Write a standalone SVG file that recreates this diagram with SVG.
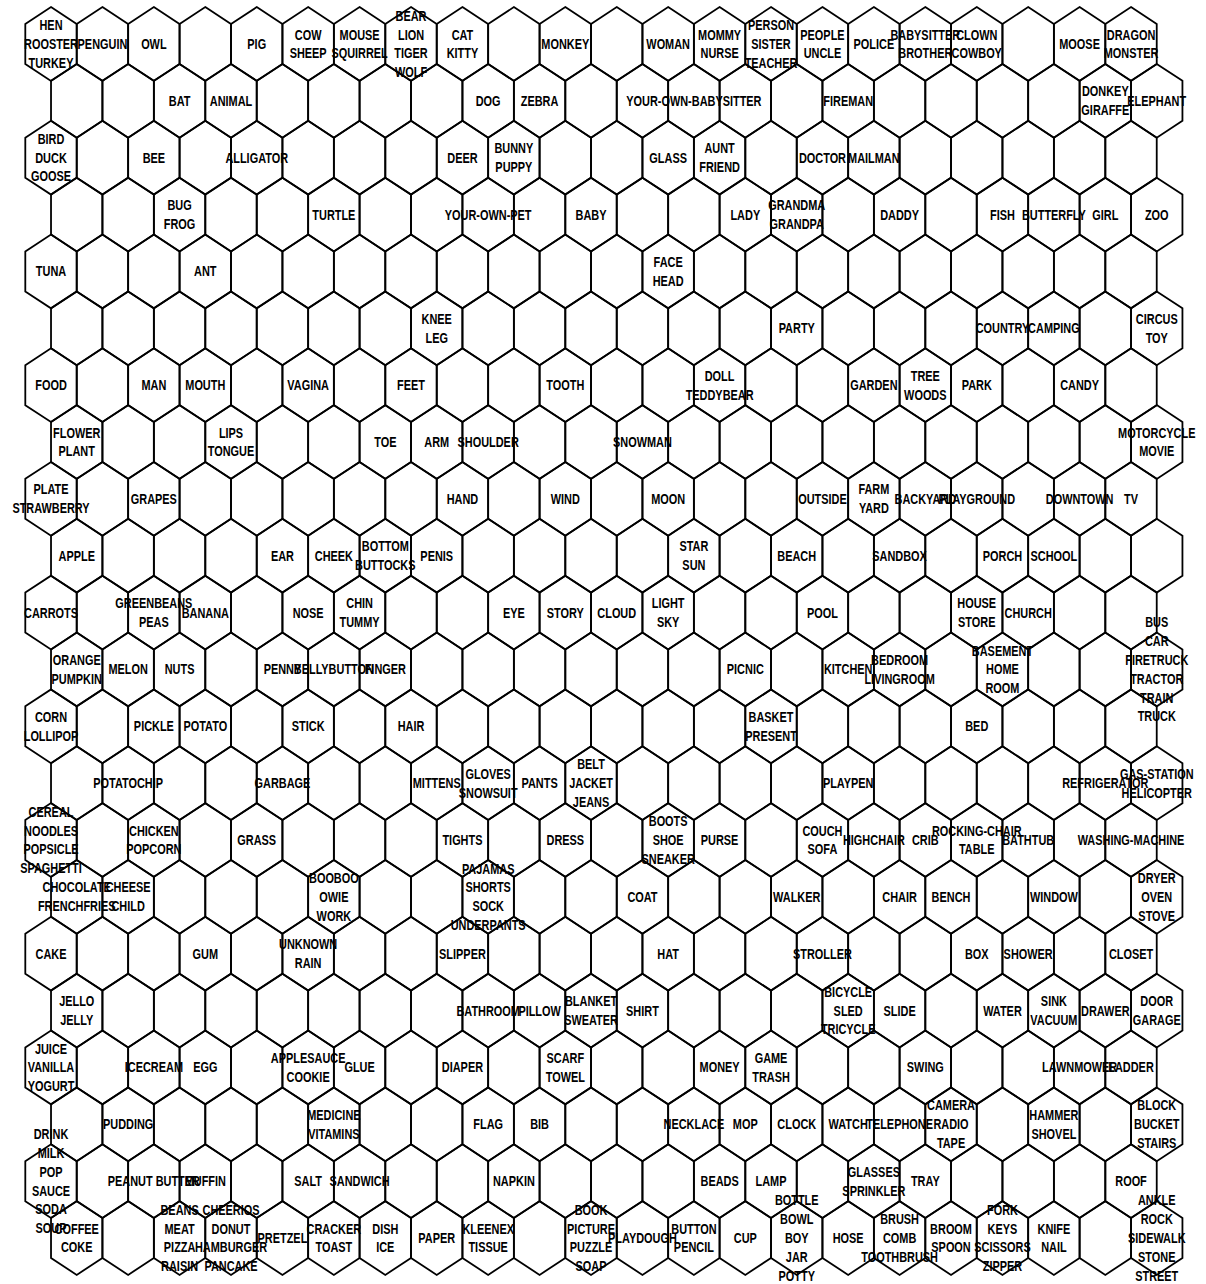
<svg xmlns="http://www.w3.org/2000/svg" xmlns:xlink="http://www.w3.org/1999/xlink" width="1206" height="1284" viewBox="0 0 1206 1284">
<style>
.hx{fill:none;stroke:#000;stroke-width:1.8;stroke-linejoin:miter}
.t{font-family:"Liberation Sans",Arial,sans-serif;font-weight:700;font-size:14px;text-anchor:middle;fill:#000}
</style>
<defs>
<polygon id="hx" class="hx" points="0,-36.9 25.7,-20 25.7,20 0,36.9 -25.7,20 -25.7,-20"/>
<g id="row">
<use href="#hx" x="51"/><use href="#hx" x="102.43"/><use href="#hx" x="153.86"/><use href="#hx" x="205.29"/><use href="#hx" x="256.72"/><use href="#hx" x="308.15"/><use href="#hx" x="359.58"/><use href="#hx" x="411.01"/><use href="#hx" x="462.44"/><use href="#hx" x="513.87"/><use href="#hx" x="565.3"/><use href="#hx" x="616.73"/><use href="#hx" x="668.16"/><use href="#hx" x="719.59"/><use href="#hx" x="771.02"/><use href="#hx" x="822.45"/><use href="#hx" x="873.88"/><use href="#hx" x="925.31"/><use href="#hx" x="976.74"/><use href="#hx" x="1028.17"/><use href="#hx" x="1079.6"/><use href="#hx" x="1131.03"/>
</g>
</defs>
<rect width="1206" height="1284" fill="#fff"/>
<g id="grid">
<use href="#row" transform="translate(0,44)"/>
<use href="#row" transform="translate(25.715,100.86)"/>
<use href="#row" transform="translate(0,157.71)"/>
<use href="#row" transform="translate(25.715,214.57)"/>
<use href="#row" transform="translate(0,271.43)"/>
<use href="#row" transform="translate(25.715,328.29)"/>
<use href="#row" transform="translate(0,385.14)"/>
<use href="#row" transform="translate(25.715,442)"/>
<use href="#row" transform="translate(0,498.86)"/>
<use href="#row" transform="translate(25.715,555.71)"/>
<use href="#row" transform="translate(0,612.57)"/>
<use href="#row" transform="translate(25.715,669.43)"/>
<use href="#row" transform="translate(0,726.28)"/>
<use href="#row" transform="translate(25.715,783.14)"/>
<use href="#row" transform="translate(0,840)"/>
<use href="#row" transform="translate(25.715,896.86)"/>
<use href="#row" transform="translate(0,953.71)"/>
<use href="#row" transform="translate(25.715,1010.57)"/>
<use href="#row" transform="translate(0,1067.43)"/>
<use href="#row" transform="translate(25.715,1124.28)"/>
<use href="#row" transform="translate(0,1181.14)"/>
<use href="#row" transform="translate(25.715,1238)"/>
</g>
<g id="labels">
<!-- row 0 -->
<g id="c0_0" transform="translate(51,44)"><text class="t" transform="scale(.78,1)"><tspan x="0" y="-13.8">HEN</tspan><tspan x="0" y="5">ROOSTER</tspan><tspan x="0" y="23.8">TURKEY</tspan></text></g>
<g id="c0_1" transform="translate(102.43,44)"><text class="t" transform="scale(.78,1)" y="5">PENGUIN</text></g>
<g id="c0_2" transform="translate(153.86,44)"><text class="t" transform="scale(.78,1)" y="5">OWL</text></g>
<g id="c0_4" transform="translate(256.72,44)"><text class="t" transform="scale(.78,1)" y="5">PIG</text></g>
<g id="c0_5" transform="translate(308.15,44)"><text class="t" transform="scale(.78,1)"><tspan x="0" y="-4.4">COW</tspan><tspan x="0" y="14.4">SHEEP</tspan></text></g>
<g id="c0_6" transform="translate(359.58,44)"><text class="t" transform="scale(.78,1)"><tspan x="0" y="-4.4">MOUSE</tspan><tspan x="0" y="14.4">SQUIRREL</tspan></text></g>
<g id="c0_7" transform="translate(411.01,44)"><text class="t" transform="scale(.78,1)"><tspan x="0" y="-23.2">BEAR</tspan><tspan x="0" y="-4.4">LION</tspan><tspan x="0" y="14.4">TIGER</tspan><tspan x="0" y="33.2">WOLF</tspan></text></g>
<g id="c0_8" transform="translate(462.44,44)"><text class="t" transform="scale(.78,1)"><tspan x="0" y="-4.4">CAT</tspan><tspan x="0" y="14.4">KITTY</tspan></text></g>
<g id="c0_10" transform="translate(565.3,44)"><text class="t" transform="scale(.78,1)" y="5">MONKEY</text></g>
<g id="c0_12" transform="translate(668.16,44)"><text class="t" transform="scale(.78,1)" y="5">WOMAN</text></g>
<g id="c0_13" transform="translate(719.59,44)"><text class="t" transform="scale(.78,1)"><tspan x="0" y="-4.4">MOMMY</tspan><tspan x="0" y="14.4">NURSE</tspan></text></g>
<g id="c0_14" transform="translate(771.02,44)"><text class="t" transform="scale(.78,1)"><tspan x="0" y="-13.8">PERSON</tspan><tspan x="0" y="5">SISTER</tspan><tspan x="0" y="23.8">TEACHER</tspan></text></g>
<g id="c0_15" transform="translate(822.45,44)"><text class="t" transform="scale(.78,1)"><tspan x="0" y="-4.4">PEOPLE</tspan><tspan x="0" y="14.4">UNCLE</tspan></text></g>
<g id="c0_16" transform="translate(873.88,44)"><text class="t" transform="scale(.78,1)" y="5">POLICE</text></g>
<g id="c0_17" transform="translate(925.31,44)"><text class="t" transform="scale(.78,1)"><tspan x="0" y="-4.4">BABYSITTER</tspan><tspan x="0" y="14.4">BROTHER</tspan></text></g>
<g id="c0_18" transform="translate(976.74,44)"><text class="t" transform="scale(.78,1)"><tspan x="0" y="-4.4">CLOWN</tspan><tspan x="0" y="14.4">COWBOY</tspan></text></g>
<g id="c0_20" transform="translate(1079.6,44)"><text class="t" transform="scale(.78,1)" y="5">MOOSE</text></g>
<g id="c0_21" transform="translate(1131.03,44)"><text class="t" transform="scale(.78,1)"><tspan x="0" y="-4.4">DRAGON</tspan><tspan x="0" y="14.4">MONSTER</tspan></text></g>
<!-- row 1 -->
<g id="c1_2" transform="translate(179.58,100.86)"><text class="t" transform="scale(.78,1)" y="5">BAT</text></g>
<g id="c1_3" transform="translate(231.01,100.86)"><text class="t" transform="scale(.78,1)" y="5">ANIMAL</text></g>
<g id="c1_8" transform="translate(488.16,100.86)"><text class="t" transform="scale(.78,1)" y="5">DOG</text></g>
<g id="c1_9" transform="translate(539.59,100.86)"><text class="t" transform="scale(.78,1)" y="5">ZEBRA</text></g>
<g id="c1_12" transform="translate(693.88,100.86)"><text class="t" transform="scale(.78,1)" y="5">YOUR-OWN-BABYSITTER</text></g>
<g id="c1_15" transform="translate(848.17,100.86)"><text class="t" transform="scale(.78,1)" y="5">FIREMAN</text></g>
<g id="c1_20" transform="translate(1105.32,100.86)"><text class="t" transform="scale(.78,1)"><tspan x="0" y="-4.4">DONKEY</tspan><tspan x="0" y="14.4">GIRAFFE</tspan></text></g>
<g id="c1_21" transform="translate(1156.75,100.86)"><text class="t" transform="scale(.78,1)" y="5">ELEPHANT</text></g>
<!-- row 2 -->
<g id="c2_0" transform="translate(51,157.71)"><text class="t" transform="scale(.78,1)"><tspan x="0" y="-13.8">BIRD</tspan><tspan x="0" y="5">DUCK</tspan><tspan x="0" y="23.8">GOOSE</tspan></text></g>
<g id="c2_2" transform="translate(153.86,157.71)"><text class="t" transform="scale(.78,1)" y="5">BEE</text></g>
<g id="c2_4" transform="translate(256.72,157.71)"><text class="t" transform="scale(.78,1)" y="5">ALLIGATOR</text></g>
<g id="c2_8" transform="translate(462.44,157.71)"><text class="t" transform="scale(.78,1)" y="5">DEER</text></g>
<g id="c2_9" transform="translate(513.87,157.71)"><text class="t" transform="scale(.78,1)"><tspan x="0" y="-4.4">BUNNY</tspan><tspan x="0" y="14.4">PUPPY</tspan></text></g>
<g id="c2_12" transform="translate(668.16,157.71)"><text class="t" transform="scale(.78,1)" y="5">GLASS</text></g>
<g id="c2_13" transform="translate(719.59,157.71)"><text class="t" transform="scale(.78,1)"><tspan x="0" y="-4.4">AUNT</tspan><tspan x="0" y="14.4">FRIEND</tspan></text></g>
<g id="c2_15" transform="translate(822.45,157.71)"><text class="t" transform="scale(.78,1)" y="5">DOCTOR</text></g>
<g id="c2_16" transform="translate(873.88,157.71)"><text class="t" transform="scale(.78,1)" y="5">MAILMAN</text></g>
<!-- row 3 -->
<g id="c3_2" transform="translate(179.58,214.57)"><text class="t" transform="scale(.78,1)"><tspan x="0" y="-4.4">BUG</tspan><tspan x="0" y="14.4">FROG</tspan></text></g>
<g id="c3_5" transform="translate(333.87,214.57)"><text class="t" transform="scale(.78,1)" y="5">TURTLE</text></g>
<g id="c3_8" transform="translate(488.16,214.57)"><text class="t" transform="scale(.78,1)" y="5">YOUR-OWN-PET</text></g>
<g id="c3_10" transform="translate(591.02,214.57)"><text class="t" transform="scale(.78,1)" y="5">BABY</text></g>
<g id="c3_13" transform="translate(745.31,214.57)"><text class="t" transform="scale(.78,1)" y="5">LADY</text></g>
<g id="c3_14" transform="translate(796.74,214.57)"><text class="t" transform="scale(.78,1)"><tspan x="0" y="-4.4">GRANDMA</tspan><tspan x="0" y="14.4">GRANDPA</tspan></text></g>
<g id="c3_16" transform="translate(899.6,214.57)"><text class="t" transform="scale(.78,1)" y="5">DADDY</text></g>
<g id="c3_18" transform="translate(1002.46,214.57)"><text class="t" transform="scale(.78,1)" y="5">FISH</text></g>
<g id="c3_19" transform="translate(1053.89,214.57)"><text class="t" transform="scale(.78,1)" y="5">BUTTERFLY</text></g>
<g id="c3_20" transform="translate(1105.32,214.57)"><text class="t" transform="scale(.78,1)" y="5">GIRL</text></g>
<g id="c3_21" transform="translate(1156.75,214.57)"><text class="t" transform="scale(.78,1)" y="5">ZOO</text></g>
<!-- row 4 -->
<g id="c4_0" transform="translate(51,271.43)"><text class="t" transform="scale(.78,1)" y="5">TUNA</text></g>
<g id="c4_3" transform="translate(205.29,271.43)"><text class="t" transform="scale(.78,1)" y="5">ANT</text></g>
<g id="c4_12" transform="translate(668.16,271.43)"><text class="t" transform="scale(.78,1)"><tspan x="0" y="-4.4">FACE</tspan><tspan x="0" y="14.4">HEAD</tspan></text></g>
<!-- row 5 -->
<g id="c5_7" transform="translate(436.73,328.29)"><text class="t" transform="scale(.78,1)"><tspan x="0" y="-4.4">KNEE</tspan><tspan x="0" y="14.4">LEG</tspan></text></g>
<g id="c5_14" transform="translate(796.74,328.29)"><text class="t" transform="scale(.78,1)" y="5">PARTY</text></g>
<g id="c5_18" transform="translate(1002.46,328.29)"><text class="t" transform="scale(.78,1)" y="5">COUNTRY</text></g>
<g id="c5_19" transform="translate(1053.89,328.29)"><text class="t" transform="scale(.78,1)" y="5">CAMPING</text></g>
<g id="c5_21" transform="translate(1156.75,328.29)"><text class="t" transform="scale(.78,1)"><tspan x="0" y="-4.4">CIRCUS</tspan><tspan x="0" y="14.4">TOY</tspan></text></g>
<!-- row 6 -->
<g id="c6_0" transform="translate(51,385.14)"><text class="t" transform="scale(.78,1)" y="5">FOOD</text></g>
<g id="c6_2" transform="translate(153.86,385.14)"><text class="t" transform="scale(.78,1)" y="5">MAN</text></g>
<g id="c6_3" transform="translate(205.29,385.14)"><text class="t" transform="scale(.78,1)" y="5">MOUTH</text></g>
<g id="c6_5" transform="translate(308.15,385.14)"><text class="t" transform="scale(.78,1)" y="5">VAGINA</text></g>
<g id="c6_7" transform="translate(411.01,385.14)"><text class="t" transform="scale(.78,1)" y="5">FEET</text></g>
<g id="c6_10" transform="translate(565.3,385.14)"><text class="t" transform="scale(.78,1)" y="5">TOOTH</text></g>
<g id="c6_13" transform="translate(719.59,385.14)"><text class="t" transform="scale(.78,1)"><tspan x="0" y="-4.4">DOLL</tspan><tspan x="0" y="14.4">TEDDYBEAR</tspan></text></g>
<g id="c6_16" transform="translate(873.88,385.14)"><text class="t" transform="scale(.78,1)" y="5">GARDEN</text></g>
<g id="c6_17" transform="translate(925.31,385.14)"><text class="t" transform="scale(.78,1)"><tspan x="0" y="-4.4">TREE</tspan><tspan x="0" y="14.4">WOODS</tspan></text></g>
<g id="c6_18" transform="translate(976.74,385.14)"><text class="t" transform="scale(.78,1)" y="5">PARK</text></g>
<g id="c6_20" transform="translate(1079.6,385.14)"><text class="t" transform="scale(.78,1)" y="5">CANDY</text></g>
<!-- row 7 -->
<g id="c7_0" transform="translate(76.72,442)"><text class="t" transform="scale(.78,1)"><tspan x="0" y="-4.4">FLOWER</tspan><tspan x="0" y="14.4">PLANT</tspan></text></g>
<g id="c7_3" transform="translate(231.01,442)"><text class="t" transform="scale(.78,1)"><tspan x="0" y="-4.4">LIPS</tspan><tspan x="0" y="14.4">TONGUE</tspan></text></g>
<g id="c7_6" transform="translate(385.3,442)"><text class="t" transform="scale(.78,1)" y="5">TOE</text></g>
<g id="c7_7" transform="translate(436.73,442)"><text class="t" transform="scale(.78,1)" y="5">ARM</text></g>
<g id="c7_8" transform="translate(488.16,442)"><text class="t" transform="scale(.78,1)" y="5">SHOULDER</text></g>
<g id="c7_11" transform="translate(642.45,442)"><text class="t" transform="scale(.78,1)" y="5">SNOWMAN</text></g>
<g id="c7_21" transform="translate(1156.75,442)"><text class="t" transform="scale(.78,1)"><tspan x="0" y="-4.4">MOTORCYCLE</tspan><tspan x="0" y="14.4">MOVIE</tspan></text></g>
<!-- row 8 -->
<g id="c8_0" transform="translate(51,498.86)"><text class="t" transform="scale(.78,1)"><tspan x="0" y="-4.4">PLATE</tspan><tspan x="0" y="14.4">STRAWBERRY</tspan></text></g>
<g id="c8_2" transform="translate(153.86,498.86)"><text class="t" transform="scale(.78,1)" y="5">GRAPES</text></g>
<g id="c8_8" transform="translate(462.44,498.86)"><text class="t" transform="scale(.78,1)" y="5">HAND</text></g>
<g id="c8_10" transform="translate(565.3,498.86)"><text class="t" transform="scale(.78,1)" y="5">WIND</text></g>
<g id="c8_12" transform="translate(668.16,498.86)"><text class="t" transform="scale(.78,1)" y="5">MOON</text></g>
<g id="c8_15" transform="translate(822.45,498.86)"><text class="t" transform="scale(.78,1)" y="5">OUTSIDE</text></g>
<g id="c8_16" transform="translate(873.88,498.86)"><text class="t" transform="scale(.78,1)"><tspan x="0" y="-4.4">FARM</tspan><tspan x="0" y="14.4">YARD</tspan></text></g>
<g id="c8_17" transform="translate(925.31,498.86)"><text class="t" transform="scale(.78,1)" y="5">BACKYARD</text></g>
<g id="c8_18" transform="translate(976.74,498.86)"><text class="t" transform="scale(.78,1)" y="5">PLAYGROUND</text></g>
<g id="c8_20" transform="translate(1079.6,498.86)"><text class="t" transform="scale(.78,1)" y="5">DOWNTOWN</text></g>
<g id="c8_21" transform="translate(1131.03,498.86)"><text class="t" transform="scale(.78,1)" y="5">TV</text></g>
<!-- row 9 -->
<g id="c9_0" transform="translate(76.72,555.71)"><text class="t" transform="scale(.78,1)" y="5">APPLE</text></g>
<g id="c9_4" transform="translate(282.44,555.71)"><text class="t" transform="scale(.78,1)" y="5">EAR</text></g>
<g id="c9_5" transform="translate(333.87,555.71)"><text class="t" transform="scale(.78,1)" y="5">CHEEK</text></g>
<g id="c9_6" transform="translate(385.3,555.71)"><text class="t" transform="scale(.78,1)"><tspan x="0" y="-4.4">BOTTOM</tspan><tspan x="0" y="14.4">BUTTOCKS</tspan></text></g>
<g id="c9_7" transform="translate(436.73,555.71)"><text class="t" transform="scale(.78,1)" y="5">PENIS</text></g>
<g id="c9_12" transform="translate(693.88,555.71)"><text class="t" transform="scale(.78,1)"><tspan x="0" y="-4.4">STAR</tspan><tspan x="0" y="14.4">SUN</tspan></text></g>
<g id="c9_14" transform="translate(796.74,555.71)"><text class="t" transform="scale(.78,1)" y="5">BEACH</text></g>
<g id="c9_16" transform="translate(899.6,555.71)"><text class="t" transform="scale(.78,1)" y="5">SANDBOX</text></g>
<g id="c9_18" transform="translate(1002.46,555.71)"><text class="t" transform="scale(.78,1)" y="5">PORCH</text></g>
<g id="c9_19" transform="translate(1053.89,555.71)"><text class="t" transform="scale(.78,1)" y="5">SCHOOL</text></g>
<!-- row 10 -->
<g id="c10_0" transform="translate(51,612.57)"><text class="t" transform="scale(.78,1)" y="5">CARROTS</text></g>
<g id="c10_2" transform="translate(153.86,612.57)"><text class="t" transform="scale(.78,1)"><tspan x="0" y="-4.4">GREENBEANS</tspan><tspan x="0" y="14.4">PEAS</tspan></text></g>
<g id="c10_3" transform="translate(205.29,612.57)"><text class="t" transform="scale(.78,1)" y="5">BANANA</text></g>
<g id="c10_5" transform="translate(308.15,612.57)"><text class="t" transform="scale(.78,1)" y="5">NOSE</text></g>
<g id="c10_6" transform="translate(359.58,612.57)"><text class="t" transform="scale(.78,1)"><tspan x="0" y="-4.4">CHIN</tspan><tspan x="0" y="14.4">TUMMY</tspan></text></g>
<g id="c10_9" transform="translate(513.87,612.57)"><text class="t" transform="scale(.78,1)" y="5">EYE</text></g>
<g id="c10_10" transform="translate(565.3,612.57)"><text class="t" transform="scale(.78,1)" y="5">STORY</text></g>
<g id="c10_11" transform="translate(616.73,612.57)"><text class="t" transform="scale(.78,1)" y="5">CLOUD</text></g>
<g id="c10_12" transform="translate(668.16,612.57)"><text class="t" transform="scale(.78,1)"><tspan x="0" y="-4.4">LIGHT</tspan><tspan x="0" y="14.4">SKY</tspan></text></g>
<g id="c10_15" transform="translate(822.45,612.57)"><text class="t" transform="scale(.78,1)" y="5">POOL</text></g>
<g id="c10_18" transform="translate(976.74,612.57)"><text class="t" transform="scale(.78,1)"><tspan x="0" y="-4.4">HOUSE</tspan><tspan x="0" y="14.4">STORE</tspan></text></g>
<g id="c10_19" transform="translate(1028.17,612.57)"><text class="t" transform="scale(.78,1)" y="5">CHURCH</text></g>
<!-- row 11 -->
<g id="c11_0" transform="translate(76.72,669.43)"><text class="t" transform="scale(.78,1)"><tspan x="0" y="-4.4">ORANGE</tspan><tspan x="0" y="14.4">PUMPKIN</tspan></text></g>
<g id="c11_1" transform="translate(128.15,669.43)"><text class="t" transform="scale(.78,1)" y="5">MELON</text></g>
<g id="c11_2" transform="translate(179.58,669.43)"><text class="t" transform="scale(.78,1)" y="5">NUTS</text></g>
<g id="c11_4" transform="translate(282.44,669.43)"><text class="t" transform="scale(.78,1)" y="5">PENNY</text></g>
<g id="c11_5" transform="translate(333.87,669.43)"><text class="t" transform="scale(.78,1)" y="5">BELLYBUTTON</text></g>
<g id="c11_6" transform="translate(385.3,669.43)"><text class="t" transform="scale(.78,1)" y="5">FINGER</text></g>
<g id="c11_13" transform="translate(745.31,669.43)"><text class="t" transform="scale(.78,1)" y="5">PICNIC</text></g>
<g id="c11_15" transform="translate(848.17,669.43)"><text class="t" transform="scale(.78,1)" y="5">KITCHEN</text></g>
<g id="c11_16" transform="translate(899.6,669.43)"><text class="t" transform="scale(.78,1)"><tspan x="0" y="-4.4">BEDROOM</tspan><tspan x="0" y="14.4">LIVINGROOM</tspan></text></g>
<g id="c11_18" transform="translate(1002.46,669.43)"><text class="t" transform="scale(.78,1)"><tspan x="0" y="-13.8">BASEMENT</tspan><tspan x="0" y="5">HOME</tspan><tspan x="0" y="23.8">ROOM</tspan></text></g>
<g id="c11_21" transform="translate(1156.75,669.43)"><text class="t" transform="scale(.78,1)"><tspan x="0" y="-42">BUS</tspan><tspan x="0" y="-23.2">CAR</tspan><tspan x="0" y="-4.4">FIRETRUCK</tspan><tspan x="0" y="14.4">TRACTOR</tspan><tspan x="0" y="33.2">TRAIN</tspan><tspan x="0" y="52">TRUCK</tspan></text></g>
<!-- row 12 -->
<g id="c12_0" transform="translate(51,726.28)"><text class="t" transform="scale(.78,1)"><tspan x="0" y="-4.4">CORN</tspan><tspan x="0" y="14.4">LOLLIPOP</tspan></text></g>
<g id="c12_2" transform="translate(153.86,726.28)"><text class="t" transform="scale(.78,1)" y="5">PICKLE</text></g>
<g id="c12_3" transform="translate(205.29,726.28)"><text class="t" transform="scale(.78,1)" y="5">POTATO</text></g>
<g id="c12_5" transform="translate(308.15,726.28)"><text class="t" transform="scale(.78,1)" y="5">STICK</text></g>
<g id="c12_7" transform="translate(411.01,726.28)"><text class="t" transform="scale(.78,1)" y="5">HAIR</text></g>
<g id="c12_14" transform="translate(771.02,726.28)"><text class="t" transform="scale(.78,1)"><tspan x="0" y="-4.4">BASKET</tspan><tspan x="0" y="14.4">PRESENT</tspan></text></g>
<g id="c12_18" transform="translate(976.74,726.28)"><text class="t" transform="scale(.78,1)" y="5">BED</text></g>
<!-- row 13 -->
<g id="c13_1" transform="translate(128.15,783.14)"><text class="t" transform="scale(.78,1)" y="5">POTATOCHIP</text></g>
<g id="c13_4" transform="translate(282.44,783.14)"><text class="t" transform="scale(.78,1)" y="5">GARBAGE</text></g>
<g id="c13_7" transform="translate(436.73,783.14)"><text class="t" transform="scale(.78,1)" y="5">MITTENS</text></g>
<g id="c13_8" transform="translate(488.16,783.14)"><text class="t" transform="scale(.78,1)"><tspan x="0" y="-4.4">GLOVES</tspan><tspan x="0" y="14.4">SNOWSUIT</tspan></text></g>
<g id="c13_9" transform="translate(539.59,783.14)"><text class="t" transform="scale(.78,1)" y="5">PANTS</text></g>
<g id="c13_10" transform="translate(591.02,783.14)"><text class="t" transform="scale(.78,1)"><tspan x="0" y="-13.8">BELT</tspan><tspan x="0" y="5">JACKET</tspan><tspan x="0" y="23.8">JEANS</tspan></text></g>
<g id="c13_15" transform="translate(848.17,783.14)"><text class="t" transform="scale(.78,1)" y="5">PLAYPEN</text></g>
<g id="c13_20" transform="translate(1105.32,783.14)"><text class="t" transform="scale(.78,1)" y="5">REFRIGERATOR</text></g>
<g id="c13_21" transform="translate(1156.75,783.14)"><text class="t" transform="scale(.78,1)"><tspan x="0" y="-4.4">GAS-STATION</tspan><tspan x="0" y="14.4">HELICOPTER</tspan></text></g>
<!-- row 14 -->
<g id="c14_0" transform="translate(51,840)"><text class="t" transform="scale(.78,1)"><tspan x="0" y="-23.2">CEREAL</tspan><tspan x="0" y="-4.4">NOODLES</tspan><tspan x="0" y="14.4">POPSICLE</tspan><tspan x="0" y="33.2">SPAGHETTI</tspan></text></g>
<g id="c14_2" transform="translate(153.86,840)"><text class="t" transform="scale(.78,1)"><tspan x="0" y="-4.4">CHICKEN</tspan><tspan x="0" y="14.4">POPCORN</tspan></text></g>
<g id="c14_4" transform="translate(256.72,840)"><text class="t" transform="scale(.78,1)" y="5">GRASS</text></g>
<g id="c14_8" transform="translate(462.44,840)"><text class="t" transform="scale(.78,1)" y="5">TIGHTS</text></g>
<g id="c14_10" transform="translate(565.3,840)"><text class="t" transform="scale(.78,1)" y="5">DRESS</text></g>
<g id="c14_12" transform="translate(668.16,840)"><text class="t" transform="scale(.78,1)"><tspan x="0" y="-13.8">BOOTS</tspan><tspan x="0" y="5">SHOE</tspan><tspan x="0" y="23.8">SNEAKER</tspan></text></g>
<g id="c14_13" transform="translate(719.59,840)"><text class="t" transform="scale(.78,1)" y="5">PURSE</text></g>
<g id="c14_15" transform="translate(822.45,840)"><text class="t" transform="scale(.78,1)"><tspan x="0" y="-4.4">COUCH</tspan><tspan x="0" y="14.4">SOFA</tspan></text></g>
<g id="c14_16" transform="translate(873.88,840)"><text class="t" transform="scale(.78,1)" y="5">HIGHCHAIR</text></g>
<g id="c14_17" transform="translate(925.31,840)"><text class="t" transform="scale(.78,1)" y="5">CRIB</text></g>
<g id="c14_18" transform="translate(976.74,840)"><text class="t" transform="scale(.78,1)"><tspan x="0" y="-4.4">ROCKING-CHAIR</tspan><tspan x="0" y="14.4">TABLE</tspan></text></g>
<g id="c14_19" transform="translate(1028.17,840)"><text class="t" transform="scale(.78,1)" y="5">BATHTUB</text></g>
<g id="c14_21" transform="translate(1131.03,840)"><text class="t" transform="scale(.78,1)" y="5">WASHING-MACHINE</text></g>
<!-- row 15 -->
<g id="c15_0" transform="translate(76.72,896.86)"><text class="t" transform="scale(.78,1)"><tspan x="0" y="-4.4">CHOCOLATE</tspan><tspan x="0" y="14.4">FRENCHFRIES</tspan></text></g>
<g id="c15_1" transform="translate(128.15,896.86)"><text class="t" transform="scale(.78,1)"><tspan x="0" y="-4.4">CHEESE</tspan><tspan x="0" y="14.4">CHILD</tspan></text></g>
<g id="c15_5" transform="translate(333.87,896.86)"><text class="t" transform="scale(.78,1)"><tspan x="0" y="-13.8">BOOBOO</tspan><tspan x="0" y="5">OWIE</tspan><tspan x="0" y="23.8">WORK</tspan></text></g>
<g id="c15_8" transform="translate(488.16,896.86)"><text class="t" transform="scale(.78,1)"><tspan x="0" y="-23.2">PAJAMAS</tspan><tspan x="0" y="-4.4">SHORTS</tspan><tspan x="0" y="14.4">SOCK</tspan><tspan x="0" y="33.2">UNDERPANTS</tspan></text></g>
<g id="c15_11" transform="translate(642.45,896.86)"><text class="t" transform="scale(.78,1)" y="5">COAT</text></g>
<g id="c15_14" transform="translate(796.74,896.86)"><text class="t" transform="scale(.78,1)" y="5">WALKER</text></g>
<g id="c15_16" transform="translate(899.6,896.86)"><text class="t" transform="scale(.78,1)" y="5">CHAIR</text></g>
<g id="c15_17" transform="translate(951.03,896.86)"><text class="t" transform="scale(.78,1)" y="5">BENCH</text></g>
<g id="c15_19" transform="translate(1053.89,896.86)"><text class="t" transform="scale(.78,1)" y="5">WINDOW</text></g>
<g id="c15_21" transform="translate(1156.75,896.86)"><text class="t" transform="scale(.78,1)"><tspan x="0" y="-13.8">DRYER</tspan><tspan x="0" y="5">OVEN</tspan><tspan x="0" y="23.8">STOVE</tspan></text></g>
<!-- row 16 -->
<g id="c16_0" transform="translate(51,953.71)"><text class="t" transform="scale(.78,1)" y="5">CAKE</text></g>
<g id="c16_3" transform="translate(205.29,953.71)"><text class="t" transform="scale(.78,1)" y="5">GUM</text></g>
<g id="c16_5" transform="translate(308.15,953.71)"><text class="t" transform="scale(.78,1)"><tspan x="0" y="-4.4">UNKNOWN</tspan><tspan x="0" y="14.4">RAIN</tspan></text></g>
<g id="c16_8" transform="translate(462.44,953.71)"><text class="t" transform="scale(.78,1)" y="5">SLIPPER</text></g>
<g id="c16_12" transform="translate(668.16,953.71)"><text class="t" transform="scale(.78,1)" y="5">HAT</text></g>
<g id="c16_15" transform="translate(822.45,953.71)"><text class="t" transform="scale(.78,1)" y="5">STROLLER</text></g>
<g id="c16_18" transform="translate(976.74,953.71)"><text class="t" transform="scale(.78,1)" y="5">BOX</text></g>
<g id="c16_19" transform="translate(1028.17,953.71)"><text class="t" transform="scale(.78,1)" y="5">SHOWER</text></g>
<g id="c16_21" transform="translate(1131.03,953.71)"><text class="t" transform="scale(.78,1)" y="5">CLOSET</text></g>
<!-- row 17 -->
<g id="c17_0" transform="translate(76.72,1010.57)"><text class="t" transform="scale(.78,1)"><tspan x="0" y="-4.4">JELLO</tspan><tspan x="0" y="14.4">JELLY</tspan></text></g>
<g id="c17_8" transform="translate(488.16,1010.57)"><text class="t" transform="scale(.78,1)" y="5">BATHROOM</text></g>
<g id="c17_9" transform="translate(539.59,1010.57)"><text class="t" transform="scale(.78,1)" y="5">PILLOW</text></g>
<g id="c17_10" transform="translate(591.02,1010.57)"><text class="t" transform="scale(.78,1)"><tspan x="0" y="-4.4">BLANKET</tspan><tspan x="0" y="14.4">SWEATER</tspan></text></g>
<g id="c17_11" transform="translate(642.45,1010.57)"><text class="t" transform="scale(.78,1)" y="5">SHIRT</text></g>
<g id="c17_15" transform="translate(848.17,1010.57)"><text class="t" transform="scale(.78,1)"><tspan x="0" y="-13.8">BICYCLE</tspan><tspan x="0" y="5">SLED</tspan><tspan x="0" y="23.8">TRICYCLE</tspan></text></g>
<g id="c17_16" transform="translate(899.6,1010.57)"><text class="t" transform="scale(.78,1)" y="5">SLIDE</text></g>
<g id="c17_18" transform="translate(1002.46,1010.57)"><text class="t" transform="scale(.78,1)" y="5">WATER</text></g>
<g id="c17_19" transform="translate(1053.89,1010.57)"><text class="t" transform="scale(.78,1)"><tspan x="0" y="-4.4">SINK</tspan><tspan x="0" y="14.4">VACUUM</tspan></text></g>
<g id="c17_20" transform="translate(1105.32,1010.57)"><text class="t" transform="scale(.78,1)" y="5">DRAWER</text></g>
<g id="c17_21" transform="translate(1156.75,1010.57)"><text class="t" transform="scale(.78,1)"><tspan x="0" y="-4.4">DOOR</tspan><tspan x="0" y="14.4">GARAGE</tspan></text></g>
<!-- row 18 -->
<g id="c18_0" transform="translate(51,1067.43)"><text class="t" transform="scale(.78,1)"><tspan x="0" y="-13.8">JUICE</tspan><tspan x="0" y="5">VANILLA</tspan><tspan x="0" y="23.8">YOGURT</tspan></text></g>
<g id="c18_2" transform="translate(153.86,1067.43)"><text class="t" transform="scale(.78,1)" y="5">ICECREAM</text></g>
<g id="c18_3" transform="translate(205.29,1067.43)"><text class="t" transform="scale(.78,1)" y="5">EGG</text></g>
<g id="c18_5" transform="translate(308.15,1067.43)"><text class="t" transform="scale(.78,1)"><tspan x="0" y="-4.4">APPLESAUCE</tspan><tspan x="0" y="14.4">COOKIE</tspan></text></g>
<g id="c18_6" transform="translate(359.58,1067.43)"><text class="t" transform="scale(.78,1)" y="5">GLUE</text></g>
<g id="c18_8" transform="translate(462.44,1067.43)"><text class="t" transform="scale(.78,1)" y="5">DIAPER</text></g>
<g id="c18_10" transform="translate(565.3,1067.43)"><text class="t" transform="scale(.78,1)"><tspan x="0" y="-4.4">SCARF</tspan><tspan x="0" y="14.4">TOWEL</tspan></text></g>
<g id="c18_13" transform="translate(719.59,1067.43)"><text class="t" transform="scale(.78,1)" y="5">MONEY</text></g>
<g id="c18_14" transform="translate(771.02,1067.43)"><text class="t" transform="scale(.78,1)"><tspan x="0" y="-4.4">GAME</tspan><tspan x="0" y="14.4">TRASH</tspan></text></g>
<g id="c18_17" transform="translate(925.31,1067.43)"><text class="t" transform="scale(.78,1)" y="5">SWING</text></g>
<g id="c18_20" transform="translate(1079.6,1067.43)"><text class="t" transform="scale(.78,1)" y="5">LAWNMOWER</text></g>
<g id="c18_21" transform="translate(1131.03,1067.43)"><text class="t" transform="scale(.78,1)" y="5">LADDER</text></g>
<!-- row 19 -->
<g id="c19_1" transform="translate(128.15,1124.28)"><text class="t" transform="scale(.78,1)" y="5">PUDDING</text></g>
<g id="c19_5" transform="translate(333.87,1124.28)"><text class="t" transform="scale(.78,1)"><tspan x="0" y="-4.4">MEDICINE</tspan><tspan x="0" y="14.4">VITAMINS</tspan></text></g>
<g id="c19_8" transform="translate(488.16,1124.28)"><text class="t" transform="scale(.78,1)" y="5">FLAG</text></g>
<g id="c19_9" transform="translate(539.59,1124.28)"><text class="t" transform="scale(.78,1)" y="5">BIB</text></g>
<g id="c19_12" transform="translate(693.88,1124.28)"><text class="t" transform="scale(.78,1)" y="5">NECKLACE</text></g>
<g id="c19_13" transform="translate(745.31,1124.28)"><text class="t" transform="scale(.78,1)" y="5">MOP</text></g>
<g id="c19_14" transform="translate(796.74,1124.28)"><text class="t" transform="scale(.78,1)" y="5">CLOCK</text></g>
<g id="c19_15" transform="translate(848.17,1124.28)"><text class="t" transform="scale(.78,1)" y="5">WATCH</text></g>
<g id="c19_16" transform="translate(899.6,1124.28)"><text class="t" transform="scale(.78,1)" y="5">TELEPHONE</text></g>
<g id="c19_17" transform="translate(951.03,1124.28)"><text class="t" transform="scale(.78,1)"><tspan x="0" y="-13.8">CAMERA</tspan><tspan x="0" y="5">RADIO</tspan><tspan x="0" y="23.8">TAPE</tspan></text></g>
<g id="c19_19" transform="translate(1053.89,1124.28)"><text class="t" transform="scale(.78,1)"><tspan x="0" y="-4.4">HAMMER</tspan><tspan x="0" y="14.4">SHOVEL</tspan></text></g>
<g id="c19_21" transform="translate(1156.75,1124.28)"><text class="t" transform="scale(.78,1)"><tspan x="0" y="-13.8">BLOCK</tspan><tspan x="0" y="5">BUCKET</tspan><tspan x="0" y="23.8">STAIRS</tspan></text></g>
<!-- row 20 -->
<g id="c20_0" transform="translate(51,1181.14)"><text class="t" transform="scale(.78,1)"><tspan x="0" y="-42">DRINK</tspan><tspan x="0" y="-23.2">MILK</tspan><tspan x="0" y="-4.4">POP</tspan><tspan x="0" y="14.4">SAUCE</tspan><tspan x="0" y="33.2">SODA</tspan><tspan x="0" y="52">SOUP</tspan></text></g>
<g id="c20_2" transform="translate(153.86,1181.14)"><text class="t" transform="scale(.78,1)" y="5">PEANUT BUTTER</text></g>
<g id="c20_3" transform="translate(205.29,1181.14)"><text class="t" transform="scale(.78,1)" y="5">MUFFIN</text></g>
<g id="c20_5" transform="translate(308.15,1181.14)"><text class="t" transform="scale(.78,1)" y="5">SALT</text></g>
<g id="c20_6" transform="translate(359.58,1181.14)"><text class="t" transform="scale(.78,1)" y="5">SANDWICH</text></g>
<g id="c20_9" transform="translate(513.87,1181.14)"><text class="t" transform="scale(.78,1)" y="5">NAPKIN</text></g>
<g id="c20_13" transform="translate(719.59,1181.14)"><text class="t" transform="scale(.78,1)" y="5">BEADS</text></g>
<g id="c20_14" transform="translate(771.02,1181.14)"><text class="t" transform="scale(.78,1)" y="5">LAMP</text></g>
<g id="c20_16" transform="translate(873.88,1181.14)"><text class="t" transform="scale(.78,1)"><tspan x="0" y="-4.4">GLASSES</tspan><tspan x="0" y="14.4">SPRINKLER</tspan></text></g>
<g id="c20_17" transform="translate(925.31,1181.14)"><text class="t" transform="scale(.78,1)" y="5">TRAY</text></g>
<g id="c20_21" transform="translate(1131.03,1181.14)"><text class="t" transform="scale(.78,1)" y="5">ROOF</text></g>
<!-- row 21 -->
<g id="c21_0" transform="translate(76.72,1238)"><text class="t" transform="scale(.78,1)"><tspan x="0" y="-4.4">COFFEE</tspan><tspan x="0" y="14.4">COKE</tspan></text></g>
<g id="c21_2" transform="translate(179.58,1238)"><text class="t" transform="scale(.78,1)"><tspan x="0" y="-23.2">BEANS</tspan><tspan x="0" y="-4.4">MEAT</tspan><tspan x="0" y="14.4">PIZZA</tspan><tspan x="0" y="33.2">RAISIN</tspan></text></g>
<g id="c21_3" transform="translate(231.01,1238)"><text class="t" transform="scale(.78,1)"><tspan x="0" y="-23.2">CHEERIOS</tspan><tspan x="0" y="-4.4">DONUT</tspan><tspan x="0" y="14.4">HAMBURGER</tspan><tspan x="0" y="33.2">PANCAKE</tspan></text></g>
<g id="c21_4" transform="translate(282.44,1238)"><text class="t" transform="scale(.78,1)" y="5">PRETZEL</text></g>
<g id="c21_5" transform="translate(333.87,1238)"><text class="t" transform="scale(.78,1)"><tspan x="0" y="-4.4">CRACKER</tspan><tspan x="0" y="14.4">TOAST</tspan></text></g>
<g id="c21_6" transform="translate(385.3,1238)"><text class="t" transform="scale(.78,1)"><tspan x="0" y="-4.4">DISH</tspan><tspan x="0" y="14.4">ICE</tspan></text></g>
<g id="c21_7" transform="translate(436.73,1238)"><text class="t" transform="scale(.78,1)" y="5">PAPER</text></g>
<g id="c21_8" transform="translate(488.16,1238)"><text class="t" transform="scale(.78,1)"><tspan x="0" y="-4.4">KLEENEX</tspan><tspan x="0" y="14.4">TISSUE</tspan></text></g>
<g id="c21_10" transform="translate(591.02,1238)"><text class="t" transform="scale(.78,1)"><tspan x="0" y="-23.2">BOOK</tspan><tspan x="0" y="-4.4">PICTURE</tspan><tspan x="0" y="14.4">PUZZLE</tspan><tspan x="0" y="33.2">SOAP</tspan></text></g>
<g id="c21_11" transform="translate(642.45,1238)"><text class="t" transform="scale(.78,1)" y="5">PLAYDOUGH</text></g>
<g id="c21_12" transform="translate(693.88,1238)"><text class="t" transform="scale(.78,1)"><tspan x="0" y="-4.4">BUTTON</tspan><tspan x="0" y="14.4">PENCIL</tspan></text></g>
<g id="c21_13" transform="translate(745.31,1238)"><text class="t" transform="scale(.78,1)" y="5">CUP</text></g>
<g id="c21_14" transform="translate(796.74,1238)"><text class="t" transform="scale(.78,1)"><tspan x="0" y="-32.6">BOTTLE</tspan><tspan x="0" y="-13.8">BOWL</tspan><tspan x="0" y="5">BOY</tspan><tspan x="0" y="23.8">JAR</tspan><tspan x="0" y="42.6">POTTY</tspan></text></g>
<g id="c21_15" transform="translate(848.17,1238)"><text class="t" transform="scale(.78,1)" y="5">HOSE</text></g>
<g id="c21_16" transform="translate(899.6,1238)"><text class="t" transform="scale(.78,1)"><tspan x="0" y="-13.8">BRUSH</tspan><tspan x="0" y="5">COMB</tspan><tspan x="0" y="23.8">TOOTHBRUSH</tspan></text></g>
<g id="c21_17" transform="translate(951.03,1238)"><text class="t" transform="scale(.78,1)"><tspan x="0" y="-4.4">BROOM</tspan><tspan x="0" y="14.4">SPOON</tspan></text></g>
<g id="c21_18" transform="translate(1002.46,1238)"><text class="t" transform="scale(.78,1)"><tspan x="0" y="-23.2">FORK</tspan><tspan x="0" y="-4.4">KEYS</tspan><tspan x="0" y="14.4">SCISSORS</tspan><tspan x="0" y="33.2">ZIPPER</tspan></text></g>
<g id="c21_19" transform="translate(1053.89,1238)"><text class="t" transform="scale(.78,1)"><tspan x="0" y="-4.4">KNIFE</tspan><tspan x="0" y="14.4">NAIL</tspan></text></g>
<g id="c21_21" transform="translate(1156.75,1238)"><text class="t" transform="scale(.78,1)"><tspan x="0" y="-32.6">ANKLE</tspan><tspan x="0" y="-13.8">ROCK</tspan><tspan x="0" y="5">SIDEWALK</tspan><tspan x="0" y="23.8">STONE</tspan><tspan x="0" y="42.6">STREET</tspan></text></g>
</g>
</svg>
